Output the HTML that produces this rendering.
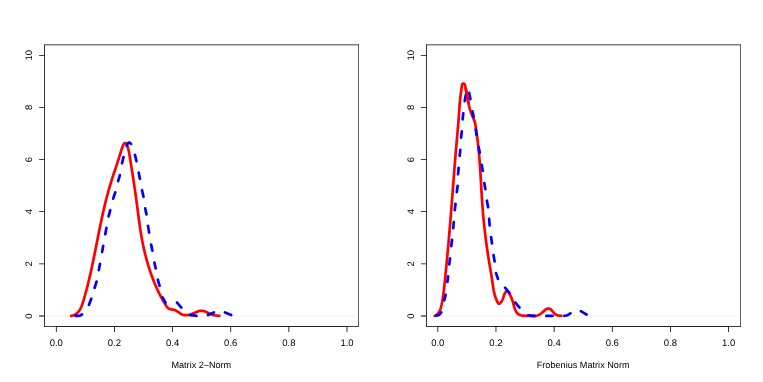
<!DOCTYPE html>
<html><head><meta charset="utf-8"><title>Density plots</title>
<style>html,body{margin:0;padding:0;background:#fff;}body{width:763px;height:382px;position:relative;overflow:hidden;font-family:"Liberation Sans",sans-serif;}</style>
</head><body>
<svg width="763" height="382" viewBox="0 0 763 382" style="position:absolute;left:0;top:0;will-change:transform;font-family:'Liberation Sans',sans-serif;font-size:9.15px;fill:#000;text-rendering:geometricPrecision">
<rect width="763" height="382" fill="#fff"/>
<line x1="45.1" y1="316.0" x2="356.6" y2="316.0" stroke="#e8e8e8" stroke-width="0.55"/>
<path d="M71.20,315.90L71.96,315.73L72.69,315.53L73.39,315.28L74.05,315.01L74.68,314.71L75.28,314.37L75.86,314.01L76.40,313.62L76.91,313.21L77.41,312.76L77.87,312.30L78.31,311.81L78.73,311.30L79.13,310.77L79.51,310.22L79.87,309.66L80.21,309.07L80.53,308.48L80.84,307.86L81.13,307.24L81.41,306.60L81.67,305.95L81.93,305.30L82.17,304.63L82.41,303.96L82.64,303.28L82.86,302.59L83.08,301.91L83.29,301.22L83.49,300.53L83.70,299.84L83.90,299.15L84.10,298.46L84.30,297.77L84.50,297.09L84.70,296.40L84.89,295.72L85.08,295.03L85.27,294.35L85.46,293.66L85.65,292.98L85.84,292.30L86.02,291.61L86.21,290.93L86.39,290.25L86.57,289.57L86.75,288.89L86.93,288.21L87.10,287.53L87.28,286.85L87.45,286.17L87.62,285.49L87.80,284.81L87.96,284.13L88.13,283.45L88.30,282.77L88.47,282.10L88.63,281.42L88.80,280.74L88.96,280.06L89.12,279.39L89.28,278.71L89.44,278.03L89.60,277.35L89.76,276.67L89.91,276.00L90.07,275.32L90.23,274.64L90.38,273.96L90.53,273.28L90.69,272.61L90.84,271.93L90.99,271.25L91.14,270.57L91.29,269.89L91.44,269.21L91.58,268.53L91.73,267.85L91.88,267.17L92.02,266.49L92.17,265.81L92.31,265.13L92.46,264.44L92.60,263.76L92.75,263.08L92.89,262.40L93.03,261.72L93.17,261.03L93.31,260.35L93.45,259.67L93.59,258.98L93.73,258.30L93.87,257.62L94.01,256.93L94.15,256.25L94.29,255.56L94.43,254.88L94.57,254.19L94.70,253.51L94.84,252.82L94.98,252.14L95.12,251.45L95.25,250.77L95.39,250.08L95.52,249.40L95.66,248.71L95.80,248.03L95.93,247.34L96.07,246.65L96.20,245.97L96.34,245.28L96.47,244.59L96.61,243.91L96.75,243.22L96.88,242.54L97.02,241.85L97.15,241.16L97.29,240.48L97.42,239.79L97.56,239.10L97.69,238.41L97.83,237.73L97.97,237.04L98.10,236.35L98.24,235.67L98.38,234.98L98.51,234.29L98.65,233.61L98.79,232.92L98.92,232.23L99.06,231.55L99.20,230.86L99.34,230.17L99.48,229.49L99.62,228.80L99.76,228.11L99.90,227.43L100.04,226.74L100.18,226.05L100.32,225.37L100.46,224.68L100.60,223.99L100.75,223.31L100.89,222.62L101.03,221.94L101.18,221.25L101.32,220.56L101.47,219.88L101.62,219.19L101.76,218.51L101.91,217.82L102.06,217.14L102.21,216.45L102.36,215.77L102.51,215.08L102.66,214.40L102.81,213.72L102.96,213.03L103.12,212.35L103.27,211.66L103.43,210.98L103.58,210.30L103.74,209.62L103.90,208.93L104.05,208.25L104.21,207.57L104.37,206.89L104.54,206.20L104.70,205.52L104.86,204.84L105.03,204.16L105.19,203.48L105.36,202.80L105.52,202.12L105.69,201.44L105.86,200.76L106.03,200.08L106.21,199.40L106.38,198.72L106.55,198.04L106.73,197.37L106.91,196.69L107.08,196.01L107.26,195.33L107.44,194.66L107.62,193.98L107.81,193.30L107.99,192.63L108.18,191.95L108.36,191.28L108.55,190.60L108.74,189.93L108.93,189.26L109.13,188.58L109.32,187.91L109.52,187.24L109.71,186.57L109.91,185.89L110.11,185.22L110.31,184.55L110.52,183.88L110.72,183.21L110.93,182.54L111.14,181.87L111.34,181.20L111.55,180.53L111.77,179.87L111.98,179.20L112.19,178.53L112.41,177.87L112.62,177.20L112.84,176.53L113.06,175.87L113.28,175.20L113.49,174.54L113.71,173.87L113.93,173.20L114.15,172.54L114.37,171.88L114.60,171.21L114.82,170.55L115.04,169.88L115.26,169.22L115.48,168.56L115.70,167.89L115.92,167.23L116.14,166.57L116.36,165.90L116.59,165.24L116.81,164.58L117.02,163.91L117.24,163.25L117.46,162.59L117.68,161.93L117.90,161.26L118.11,160.60L118.33,159.94L118.54,159.27L118.75,158.61L118.96,157.95L119.17,157.29L119.38,156.62L119.59,155.96L119.80,155.30L120.00,154.63L120.21,153.97L120.41,153.31L120.61,152.64L120.81,151.98L121.02,151.31L121.22,150.65L121.43,149.98L121.65,149.32L121.87,148.65L122.10,147.98L122.34,147.31L122.58,146.64L122.84,145.97L123.11,145.30L123.40,144.64L123.76,144.01L124.22,143.47L124.78,143.11L125.39,143.08L125.97,143.38L126.46,143.88L126.82,144.49L127.10,145.16L127.34,145.86L127.57,146.56L127.78,147.25L127.98,147.94L128.17,148.63L128.35,149.32L128.51,150.01L128.67,150.69L128.82,151.38L128.96,152.06L129.10,152.75L129.23,153.43L129.35,154.11L129.47,154.79L129.58,155.47L129.69,156.16L129.80,156.84L129.91,157.52L130.02,158.20L130.13,158.89L130.24,159.57L130.35,160.25L130.46,160.94L130.57,161.62L130.67,162.31L130.78,162.99L130.89,163.68L131.00,164.37L131.11,165.05L131.22,165.74L131.33,166.43L131.44,167.11L131.54,167.80L131.65,168.49L131.76,169.18L131.87,169.87L131.98,170.56L132.09,171.25L132.20,171.94L132.30,172.63L132.41,173.32L132.52,174.01L132.63,174.70L132.74,175.39L132.84,176.09L132.95,176.78L133.06,177.47L133.16,178.16L133.27,178.86L133.38,179.55L133.48,180.24L133.59,180.94L133.69,181.63L133.80,182.32L133.90,183.02L134.01,183.71L134.11,184.41L134.22,185.10L134.32,185.80L134.42,186.49L134.53,187.18L134.63,187.88L134.73,188.58L134.83,189.27L134.94,189.97L135.04,190.66L135.14,191.36L135.24,192.05L135.34,192.75L135.44,193.44L135.54,194.14L135.63,194.83L135.73,195.53L135.83,196.23L135.93,196.92L136.02,197.62L136.12,198.31L136.21,199.01L136.31,199.71L136.40,200.40L136.50,201.10L136.59,201.79L136.68,202.49L136.77,203.18L136.86,203.88L136.95,204.57L137.05,205.27L137.14,205.97L137.23,206.66L137.31,207.36L137.40,208.05L137.49,208.75L137.58,209.44L137.67,210.14L137.76,210.83L137.85,211.53L137.94,212.22L138.03,212.91L138.12,213.61L138.21,214.30L138.30,215.00L138.39,215.69L138.48,216.38L138.57,217.08L138.66,217.77L138.75,218.47L138.84,219.16L138.94,219.85L139.03,220.54L139.12,221.24L139.22,221.93L139.31,222.62L139.41,223.32L139.51,224.01L139.61,224.70L139.70,225.39L139.80,226.08L139.90,226.77L140.01,227.47L140.11,228.16L140.21,228.85L140.32,229.54L140.42,230.23L140.53,230.92L140.64,231.61L140.75,232.30L140.86,232.99L140.98,233.68L141.09,234.37L141.21,235.06L141.32,235.74L141.44,236.43L141.56,237.12L141.69,237.81L141.81,238.50L141.94,239.18L142.07,239.87L142.19,240.56L142.33,241.25L142.46,241.93L142.59,242.62L142.73,243.30L142.87,243.99L143.01,244.67L143.15,245.36L143.30,246.04L143.44,246.73L143.59,247.41L143.74,248.09L143.89,248.78L144.05,249.46L144.20,250.14L144.36,250.82L144.52,251.50L144.68,252.18L144.85,252.86L145.01,253.54L145.18,254.22L145.35,254.90L145.52,255.58L145.70,256.26L145.87,256.93L146.05,257.61L146.23,258.29L146.41,258.96L146.60,259.64L146.78,260.31L146.97,260.99L147.16,261.66L147.35,262.33L147.55,263.00L147.75,263.67L147.94,264.34L148.15,265.01L148.35,265.68L148.55,266.35L148.76,267.02L148.97,267.69L149.18,268.35L149.40,269.02L149.62,269.69L149.84,270.35L150.06,271.01L150.28,271.68L150.51,272.34L150.73,273.00L150.96,273.66L151.20,274.32L151.43,274.98L151.67,275.64L151.91,276.29L152.15,276.95L152.40,277.61L152.64,278.26L152.89,278.92L153.14,279.57L153.40,280.22L153.66,280.87L153.91,281.52L154.18,282.17L154.44,282.82L154.71,283.47L154.98,284.11L155.25,284.76L155.52,285.40L155.80,286.05L156.08,286.69L156.36,287.33L156.65,287.97L156.94,288.61L157.23,289.25L157.52,289.88L157.82,290.52L158.12,291.15L158.42,291.78L158.73,292.41L159.04,293.04L159.35,293.67L159.67,294.30L159.99,294.92L160.31,295.55L160.63,296.17L160.96,296.79L161.30,297.41L161.63,298.03L161.97,298.65L162.31,299.26L162.66,299.87L163.01,300.49L163.36,301.10L163.72,301.70L164.08,302.31L164.44,302.92L164.81,303.52L165.18,304.12L165.56,304.72L165.93,305.32L166.32,305.91L166.71,306.49L167.13,307.05L167.57,307.56L168.04,308.03L168.55,308.44L169.10,308.77L169.71,309.02L170.36,309.20L171.05,309.33L171.77,309.44L172.49,309.54L173.22,309.66L173.94,309.83L174.64,310.05L175.33,310.33L175.99,310.66L176.64,311.03L177.28,311.42L177.91,311.84L178.53,312.26L179.15,312.69L179.76,313.10L180.37,313.50L180.99,313.87L181.61,314.20L182.23,314.49L182.86,314.72L183.50,314.90L184.15,315.04L184.80,315.13L185.45,315.17L186.11,315.17L186.78,315.14L187.45,315.07L188.12,314.97L188.79,314.84L189.47,314.68L190.15,314.49L190.83,314.28L191.50,314.06L192.18,313.81L192.85,313.56L193.53,313.29L194.20,313.01L194.87,312.72L195.53,312.43L196.19,312.15L196.85,311.88L197.51,311.62L198.17,311.38L198.83,311.18L199.49,311.01L200.15,310.88L200.81,310.80L201.48,310.78L202.15,310.81L202.82,310.90L203.49,311.05L204.16,311.24L204.84,311.47L205.51,311.73L206.17,312.01L206.84,312.30L207.49,312.61L208.14,312.91L208.79,313.21L209.42,313.50L210.05,313.78L210.68,314.04L211.32,314.29L211.95,314.53L212.59,314.75L213.25,314.94L213.91,315.12L214.59,315.28L215.28,315.41L216.00,315.52L216.73,315.61L217.47,315.68L218.19,315.74L218.87,315.82L219.40,315.90" fill="none" stroke="#ff0000" stroke-width="2.7" stroke-linecap="round" stroke-linejoin="round"/>
<path d="M75.65,315.88C76.29,315.85 78.44,315.92 79.50,315.70C80.56,315.48 81.58,314.73 82.00,314.53 M88.99,304.89C89.38,303.86 90.92,299.74 91.31,298.71 M94.66,287.77C94.97,286.75 96.23,282.65 96.54,281.63 M98.80,270.06C99.00,269.04 99.80,264.96 100.00,263.94 M102.10,251.96C102.28,250.94 103.02,246.86 103.20,245.84 M105.30,234.26C105.48,233.21 106.22,228.99 106.40,227.94 M108.55,216.37C108.83,215.35 109.97,211.25 110.25,210.23 M113.17,198.68C113.51,197.62 114.89,193.38 115.23,192.32 M118.15,181.17C118.43,180.16 119.57,176.14 119.85,175.13 M122.03,163.26C122.27,162.24 123.23,158.16 123.47,157.14 M126.72,145.80C126.90,145.38 127.34,143.82 127.80,143.30C128.26,142.78 128.97,142.54 129.50,142.65C130.03,142.76 130.74,143.72 130.98,143.94 M134.93,154.93C135.19,155.96 136.21,160.04 136.47,161.07 M138.70,172.64C138.90,173.66 139.70,177.74 139.90,178.76 M142.02,190.24C142.26,191.32 143.24,195.68 143.48,196.76 M145.21,208.34C145.42,209.36 146.28,213.44 146.49,214.46 M147.99,225.74C148.18,226.88 148.92,231.42 149.11,232.56 M151.11,244.54C151.32,245.56 152.18,249.64 152.39,250.66 M154.42,262.54C154.63,263.51 155.47,267.39 155.68,268.36 M157.85,279.73C158.13,280.75 159.27,284.85 159.55,285.87 M162.57,297.38C163.06,298.27 165.04,301.83 165.53,302.72 M177.06,302.52C177.77,303.36 180.63,306.74 181.34,307.58 M190.05,315.07C191.11,315.19 195.39,315.71 196.45,315.83 M208.00,314.98C208.99,314.55 212.91,312.85 213.90,312.42 M225.01,312.41C226.04,312.84 230.16,314.56 231.19,314.99" fill="none" stroke="#0000ff" stroke-width="2.7" stroke-linecap="round" stroke-linejoin="round"/>
<path d="M44.29,44.50H358.91V45.25H44.29Z" fill="#000"/>
<path d="M44.29,326.09H358.91V326.81H44.29Z" fill="#000"/>
<path d="M44.29,44.78H44.91V326.45H44.29Z" fill="#000"/>
<path d="M358.29,44.78H358.91V326.45H358.29Z" fill="#000"/>
<path d="M55.99,326.14H347.31V326.76H55.99ZM55.90,326.76H56.70V331.95H55.90ZM114.04,326.76H114.84V331.95H114.04ZM172.18,326.76H172.98V331.95H172.18ZM230.32,326.76H231.12V331.95H230.32ZM288.46,326.76H289.26V331.95H288.46ZM346.60,326.76H347.40V331.95H346.60Z" fill="#000"/>
<path d="M44.38,44.78H44.83V326.45H44.38ZM39.10,315.60H44.29V316.40H39.10ZM39.10,263.46H44.29V264.26H39.10ZM39.10,211.32H44.29V212.12H39.10ZM39.10,159.18H44.29V159.98H39.10ZM39.10,107.04H44.29V107.84H39.10ZM39.10,54.90H44.29V55.70H39.10Z" fill="#000"/>
<text x="56.30" y="346" text-anchor="middle" font-size="9.5">0.0</text>
<text x="114.44" y="346" text-anchor="middle" font-size="9.5">0.2</text>
<text x="172.58" y="346" text-anchor="middle" font-size="9.5">0.4</text>
<text x="230.72" y="346" text-anchor="middle" font-size="9.5">0.6</text>
<text x="288.86" y="346" text-anchor="middle" font-size="9.5">0.8</text>
<text x="347.00" y="346" text-anchor="middle" font-size="9.5">1.0</text>
<text transform="translate(32.30,316.00) rotate(-90)" text-anchor="middle" font-size="9.5">0</text>
<text transform="translate(32.30,263.86) rotate(-90)" text-anchor="middle" font-size="9.5">2</text>
<text transform="translate(32.30,211.72) rotate(-90)" text-anchor="middle" font-size="9.5">4</text>
<text transform="translate(32.30,159.58) rotate(-90)" text-anchor="middle" font-size="9.5">6</text>
<text transform="translate(32.30,107.44) rotate(-90)" text-anchor="middle" font-size="9.5">8</text>
<text transform="translate(32.30,55.30) rotate(-90)" text-anchor="middle" font-size="9.5">10</text>
<text x="201.30" y="367.9" text-anchor="middle">Matrix 2–Norm</text>
<line x1="426.9" y1="316.0" x2="738.5" y2="316.0" stroke="#e8e8e8" stroke-width="0.55"/>
<path d="M434.70,315.90L435.36,315.58L435.97,315.22L436.54,314.82L437.07,314.39L437.56,313.92L438.01,313.43L438.43,312.90L438.82,312.36L439.17,311.78L439.50,311.19L439.80,310.58L440.07,309.94L440.32,309.30L440.56,308.63L440.77,307.96L440.97,307.28L441.15,306.58L441.32,305.89L441.48,305.18L441.64,304.48L441.78,303.78L441.93,303.07L442.06,302.37L442.20,301.67L442.32,300.97L442.45,300.27L442.57,299.57L442.69,298.87L442.80,298.18L442.91,297.48L443.01,296.78L443.11,296.09L443.21,295.39L443.31,294.70L443.40,294.00L443.50,293.31L443.58,292.61L443.67,291.92L443.75,291.23L443.84,290.53L443.92,289.84L444.00,289.15L444.07,288.46L444.15,287.76L444.23,287.07L444.30,286.38L444.38,285.69L444.45,284.99L444.52,284.30L444.59,283.61L444.67,282.92L444.74,282.22L444.81,281.53L444.88,280.84L444.96,280.14L445.03,279.45L445.10,278.76L445.17,278.06L445.24,277.37L445.31,276.67L445.38,275.98L445.45,275.29L445.52,274.59L445.59,273.90L445.66,273.20L445.73,272.51L445.80,271.81L445.87,271.12L445.94,270.42L446.01,269.73L446.08,269.03L446.14,268.34L446.21,267.64L446.28,266.95L446.35,266.25L446.41,265.55L446.48,264.86L446.55,264.16L446.62,263.47L446.68,262.77L446.75,262.07L446.82,261.38L446.88,260.68L446.95,259.98L447.01,259.29L447.08,258.59L447.14,257.89L447.21,257.20L447.28,256.50L447.34,255.80L447.40,255.11L447.47,254.41L447.53,253.71L447.60,253.02L447.66,252.32L447.73,251.62L447.79,250.92L447.85,250.23L447.92,249.53L447.98,248.83L448.04,248.13L448.10,247.44L448.17,246.74L448.23,246.04L448.29,245.34L448.35,244.64L448.42,243.95L448.48,243.25L448.54,242.55L448.60,241.85L448.66,241.15L448.72,240.46L448.78,239.76L448.84,239.06L448.90,238.36L448.96,237.66L449.02,236.97L449.08,236.27L449.14,235.57L449.20,234.87L449.26,234.17L449.32,233.47L449.38,232.78L449.44,232.08L449.50,231.38L449.56,230.68L449.62,229.98L449.68,229.28L449.73,228.59L449.79,227.89L449.85,227.19L449.91,226.49L449.97,225.79L450.02,225.09L450.08,224.40L450.14,223.70L450.19,223.00L450.25,222.30L450.31,221.60L450.36,220.90L450.42,220.21L450.48,219.51L450.53,218.81L450.59,218.11L450.65,217.41L450.70,216.71L450.76,216.02L450.81,215.32L450.87,214.62L450.92,213.92L450.98,213.22L451.03,212.52L451.09,211.83L451.14,211.13L451.20,210.43L451.25,209.73L451.31,209.03L451.36,208.33L451.42,207.64L451.47,206.94L451.53,206.24L451.58,205.54L451.64,204.84L451.69,204.15L451.74,203.45L451.80,202.75L451.85,202.05L451.91,201.35L451.96,200.66L452.01,199.96L452.07,199.26L452.12,198.56L452.18,197.86L452.23,197.17L452.28,196.47L452.34,195.77L452.39,195.07L452.44,194.37L452.50,193.68L452.55,192.98L452.61,192.28L452.66,191.58L452.71,190.89L452.77,190.19L452.82,189.49L452.87,188.79L452.93,188.09L452.98,187.40L453.04,186.70L453.09,186.00L453.14,185.30L453.20,184.61L453.25,183.91L453.30,183.21L453.36,182.51L453.41,181.82L453.47,181.12L453.52,180.42L453.57,179.72L453.63,179.03L453.68,178.33L453.74,177.63L453.79,176.93L453.84,176.24L453.90,175.54L453.95,174.84L454.01,174.14L454.06,173.45L454.12,172.75L454.17,172.05L454.23,171.35L454.28,170.66L454.34,169.96L454.39,169.26L454.45,168.57L454.50,167.87L454.56,167.17L454.61,166.47L454.67,165.78L454.73,165.08L454.78,164.38L454.84,163.69L454.89,162.99L454.95,162.29L455.01,161.60L455.06,160.90L455.12,160.20L455.18,159.50L455.23,158.81L455.29,158.11L455.35,157.41L455.40,156.72L455.46,156.02L455.52,155.32L455.58,154.63L455.64,153.93L455.69,153.23L455.75,152.54L455.81,151.84L455.87,151.14L455.93,150.45L455.99,149.75L456.05,149.05L456.11,148.36L456.17,147.66L456.23,146.97L456.29,146.27L456.35,145.57L456.41,144.88L456.47,144.18L456.53,143.48L456.59,142.79L456.65,142.09L456.71,141.40L456.77,140.70L456.83,140.00L456.90,139.31L456.96,138.61L457.02,137.92L457.08,137.22L457.14,136.52L457.21,135.83L457.27,135.13L457.33,134.43L457.39,133.74L457.46,133.04L457.52,132.34L457.58,131.65L457.64,130.95L457.70,130.25L457.76,129.56L457.82,128.86L457.88,128.16L457.94,127.46L458.00,126.77L458.06,126.07L458.12,125.37L458.18,124.67L458.24,123.97L458.30,123.27L458.35,122.57L458.41,121.87L458.46,121.17L458.52,120.47L458.57,119.77L458.63,119.07L458.68,118.37L458.73,117.67L458.79,116.97L458.84,116.27L458.89,115.56L458.94,114.86L458.98,114.16L459.03,113.45L459.08,112.75L459.13,112.05L459.17,111.34L459.22,110.64L459.27,109.94L459.31,109.23L459.36,108.53L459.41,107.83L459.46,107.12L459.51,106.42L459.56,105.72L459.61,105.02L459.67,104.32L459.72,103.62L459.78,102.93L459.84,102.23L459.90,101.54L459.97,100.84L460.03,100.15L460.10,99.46L460.18,98.77L460.25,98.08L460.33,97.40L460.41,96.71L460.50,96.03L460.59,95.35L460.68,94.67L460.77,93.99L460.87,93.31L460.96,92.62L461.06,91.94L461.16,91.25L461.25,90.56L461.35,89.87L461.45,89.17L461.54,88.47L461.64,87.76L461.73,87.05L461.82,86.33L461.91,85.60L462.03,84.89L462.29,84.26L462.78,83.80L463.45,83.59L464.12,83.74L464.66,84.17L464.97,84.79L465.13,85.49L465.25,86.22L465.37,86.93L465.50,87.64L465.64,88.33L465.78,89.02L465.92,89.70L466.06,90.38L466.21,91.05L466.35,91.72L466.49,92.39L466.63,93.06L466.77,93.74L466.90,94.42L467.03,95.10L467.15,95.79L467.27,96.48L467.39,97.17L467.51,97.87L467.64,98.56L467.76,99.26L467.88,99.96L468.00,100.65L468.13,101.35L468.26,102.05L468.39,102.74L468.53,103.43L468.68,104.12L468.83,104.81L468.98,105.49L469.15,106.17L469.31,106.85L469.49,107.53L469.67,108.20L469.85,108.87L470.05,109.54L470.25,110.21L470.45,110.87L470.67,111.53L470.89,112.20L471.12,112.85L471.36,113.51L471.60,114.16L471.85,114.81L472.12,115.46L472.39,116.11L472.67,116.75L472.95,117.40L473.25,118.04L473.54,118.68L473.83,119.32L474.10,119.97L474.36,120.62L474.59,121.28L474.79,121.95L474.97,122.62L475.12,123.30L475.25,123.99L475.37,124.68L475.48,125.37L475.58,126.07L475.68,126.76L475.78,127.46L475.88,128.15L475.98,128.84L476.08,129.54L476.18,130.23L476.28,130.93L476.38,131.62L476.48,132.31L476.58,133.00L476.68,133.70L476.78,134.39L476.88,135.08L476.97,135.78L477.07,136.47L477.16,137.16L477.26,137.86L477.35,138.55L477.44,139.25L477.53,139.94L477.61,140.63L477.70,141.33L477.78,142.02L477.86,142.72L477.94,143.41L478.02,144.11L478.10,144.80L478.18,145.50L478.26,146.19L478.33,146.89L478.40,147.59L478.47,148.28L478.55,148.98L478.62,149.67L478.68,150.37L478.75,151.07L478.82,151.76L478.88,152.46L478.95,153.16L479.01,153.85L479.07,154.55L479.13,155.25L479.19,155.94L479.25,156.64L479.31,157.34L479.37,158.04L479.42,158.74L479.48,159.43L479.53,160.13L479.59,160.83L479.64,161.53L479.69,162.22L479.74,162.92L479.79,163.62L479.84,164.32L479.89,165.02L479.94,165.72L479.99,166.41L480.04,167.11L480.08,167.81L480.13,168.51L480.18,169.21L480.22,169.91L480.27,170.61L480.31,171.31L480.36,172.00L480.40,172.70L480.44,173.40L480.49,174.10L480.53,174.80L480.57,175.50L480.61,176.20L480.65,176.90L480.69,177.60L480.74,178.30L480.78,179.00L480.82,179.70L480.86,180.39L480.90,181.09L480.94,181.79L480.98,182.49L481.02,183.19L481.06,183.89L481.10,184.59L481.14,185.29L481.18,185.99L481.22,186.69L481.26,187.39L481.30,188.09L481.34,188.78L481.38,189.48L481.42,190.18L481.46,190.88L481.50,191.58L481.55,192.28L481.59,192.98L481.63,193.68L481.67,194.38L481.71,195.08L481.76,195.77L481.80,196.47L481.84,197.17L481.89,197.87L481.93,198.57L481.98,199.27L482.02,199.97L482.07,200.66L482.12,201.36L482.16,202.06L482.21,202.76L482.26,203.46L482.31,204.15L482.36,204.85L482.41,205.55L482.46,206.25L482.51,206.94L482.56,207.64L482.62,208.34L482.67,209.04L482.73,209.73L482.78,210.43L482.84,211.13L482.90,211.82L482.96,212.52L483.01,213.22L483.07,213.91L483.13,214.61L483.20,215.31L483.26,216.00L483.32,216.70L483.39,217.39L483.45,218.09L483.52,218.79L483.58,219.48L483.65,220.18L483.72,220.87L483.79,221.57L483.86,222.26L483.93,222.96L484.00,223.65L484.07,224.35L484.14,225.05L484.22,225.74L484.29,226.44L484.37,227.13L484.44,227.82L484.52,228.52L484.60,229.21L484.67,229.91L484.75,230.60L484.83,231.30L484.91,231.99L485.00,232.69L485.08,233.38L485.16,234.08L485.25,234.77L485.33,235.46L485.42,236.16L485.50,236.85L485.59,237.55L485.68,238.24L485.77,238.93L485.85,239.63L485.94,240.32L486.04,241.01L486.13,241.71L486.22,242.40L486.31,243.10L486.41,243.79L486.50,244.48L486.60,245.18L486.69,245.87L486.79,246.56L486.89,247.26L486.99,247.95L487.09,248.64L487.19,249.34L487.29,250.03L487.39,250.72L487.49,251.42L487.59,252.11L487.70,252.80L487.80,253.50L487.91,254.19L488.01,254.88L488.12,255.58L488.23,256.27L488.34,256.96L488.44,257.66L488.55,258.35L488.66,259.04L488.78,259.74L488.89,260.43L489.00,261.12L489.11,261.82L489.23,262.51L489.34,263.20L489.46,263.90L489.57,264.59L489.69,265.28L489.81,265.97L489.93,266.67L490.04,267.36L490.16,268.05L490.28,268.75L490.40,269.44L490.51,270.13L490.63,270.82L490.75,271.51L490.86,272.20L490.98,272.89L491.10,273.58L491.21,274.27L491.32,274.96L491.44,275.65L491.55,276.34L491.66,277.03L491.77,277.72L491.87,278.40L491.98,279.09L492.08,279.77L492.19,280.46L492.29,281.14L492.39,281.82L492.49,282.51L492.58,283.19L492.68,283.87L492.78,284.55L492.88,285.23L492.98,285.91L493.08,286.59L493.18,287.27L493.29,287.95L493.41,288.64L493.53,289.32L493.65,290.00L493.79,290.69L493.93,291.37L494.07,292.06L494.23,292.74L494.39,293.43L494.57,294.12L494.75,294.81L494.95,295.50L495.16,296.20L495.38,296.89L495.62,297.59L495.87,298.29L496.13,298.99L496.41,299.70L496.70,300.41L497.01,301.12L497.34,301.83L497.69,302.52L498.07,303.11L498.48,303.55L498.94,303.76L499.44,303.68L499.98,303.34L500.51,302.82L501.02,302.20L501.47,301.57L501.85,300.94L502.18,300.32L502.47,299.70L502.73,299.08L502.96,298.44L503.18,297.78L503.41,297.10L503.65,296.38L503.91,295.62L504.20,294.84L504.52,294.05L504.87,293.30L505.25,292.62L505.65,292.03L506.09,291.57L506.55,291.27L507.03,291.16L507.52,291.27L507.99,291.59L508.44,292.08L508.88,292.69L509.29,293.39L509.69,294.15L510.06,294.92L510.41,295.66L510.73,296.35L511.03,297.01L511.30,297.63L511.56,298.23L511.80,298.82L512.03,299.40L512.25,299.99L512.45,300.59L512.65,301.21L512.84,301.86L513.03,302.53L513.22,303.22L513.41,303.93L513.60,304.66L513.80,305.39L514.00,306.13L514.22,306.86L514.44,307.59L514.68,308.32L514.94,309.02L515.21,309.71L515.51,310.38L515.82,311.03L516.17,311.64L516.54,312.21L516.93,312.75L517.36,313.24L517.83,313.68L518.32,314.07L518.86,314.41L519.42,314.70L520.02,314.95L520.64,315.15L521.28,315.32L521.95,315.46L522.63,315.57L523.33,315.65L524.05,315.72L524.77,315.77L525.50,315.81L526.23,315.84L526.97,315.87L527.70,315.90L528.43,315.94L529.16,315.98L529.88,316.02L530.59,316.06L531.30,316.09L532.00,316.12L532.70,316.13L533.39,316.12L534.07,316.10L534.74,316.05L535.41,315.97L536.07,315.87L536.72,315.73L537.37,315.55L538.01,315.33L538.63,315.07L539.25,314.76L539.86,314.39L540.46,313.98L541.06,313.53L541.64,313.05L542.22,312.54L542.80,312.03L543.37,311.52L543.93,311.02L544.49,310.53L545.04,310.08L545.60,309.66L546.15,309.30L546.70,308.99L547.25,308.76L547.80,308.60L548.34,308.53L548.90,308.56L549.45,308.70L550.00,308.96L550.56,309.34L551.12,309.82L551.68,310.38L552.25,310.99L552.81,311.63L553.38,312.28L553.94,312.92L554.50,313.52L555.06,314.05L555.62,314.50L556.17,314.85L556.73,315.10L557.30,315.28L557.89,315.40L558.51,315.49L559.16,315.56L559.85,315.65L560.60,315.76L561.30,315.90" fill="none" stroke="#ff0000" stroke-width="2.7" stroke-linecap="round" stroke-linejoin="round"/>
<path d="M436.23,315.76C436.69,315.63 438.16,315.57 439.00,315.00C439.84,314.43 440.87,312.77 441.25,312.32 M444.33,300.27C444.55,299.34 445.45,295.66 445.67,294.73 M447.37,281.96C447.50,281.04 448.00,277.36 448.13,276.44 M449.27,264.45C449.40,263.44 449.90,259.36 450.03,258.35 M451.27,246.05C451.40,245.04 451.90,240.96 452.03,239.95 M453.25,228.15C453.33,227.13 453.67,223.07 453.75,222.05 M454.77,210.05C454.89,209.00 455.41,204.80 455.53,203.75 M456.77,192.15C456.92,191.09 457.48,186.81 457.63,185.75 M458.05,174.25C458.15,173.17 458.55,168.83 458.65,167.75 M459.66,155.95C459.77,154.92 460.23,150.78 460.34,149.75 M461.07,137.55C461.20,136.54 461.70,132.46 461.83,131.45 M462.65,119.35C462.75,118.34 463.15,114.26 463.25,113.25 M464.70,101.06C464.88,100.04 465.62,95.96 465.80,94.94 M469.20,92.94C469.40,93.96 470.20,98.04 470.40,99.06 M472.51,111.34C472.69,112.24 473.41,115.86 473.59,116.76 M475.78,129.44C475.92,130.36 476.48,134.04 476.62,134.96 M478.71,147.14C478.89,148.06 479.61,151.74 479.79,152.66 M481.70,164.84C481.88,165.86 482.62,169.94 482.80,170.96 M484.30,183.14C484.48,184.14 485.22,188.16 485.40,189.16 M486.90,200.74C487.10,201.83 487.90,206.17 488.10,207.26 M489.14,218.85C489.23,219.95 489.57,224.35 489.66,225.45 M491.08,237.04C491.24,238.11 491.86,242.39 492.02,243.46 M493.49,255.04C493.68,256.11 494.42,260.39 494.61,261.46 M496.07,273.12C496.38,274.08 497.62,277.92 497.93,278.88 M505.15,287.73C505.85,288.58 508.65,292.02 509.35,292.87 M515.26,302.52C515.97,303.36 518.83,306.74 519.54,307.58 M528.25,315.25C529.32,315.35 533.58,315.75 534.65,315.85 M546.25,315.90C547.32,315.90 551.58,315.90 552.65,315.90 M564.24,315.80C564.78,315.70 566.47,315.62 567.50,315.20C568.53,314.78 569.95,313.62 570.44,313.30 M580.87,311.18C581.82,311.74 585.58,313.96 586.53,314.52" fill="none" stroke="#0000ff" stroke-width="2.7" stroke-linecap="round" stroke-linejoin="round"/>
<path d="M465.64,88.33L465.78,89.02L465.92,89.70L466.06,90.38L466.21,91.05L466.35,91.72L466.49,92.39L466.63,93.06L466.77,93.74L466.90,94.42L467.03,95.10L467.15,95.79L467.27,96.48L467.39,97.17L467.51,97.87L467.64,98.56L467.76,99.26L467.88,99.96L468.00,100.65L468.13,101.35L468.26,102.05L468.39,102.74L468.53,103.43" fill="none" stroke="#ff0000" stroke-width="2.7"/>
<path d="M426.09,44.50H740.81V45.25H426.09Z" fill="#000"/>
<path d="M426.09,326.09H740.81V326.81H426.09Z" fill="#000"/>
<path d="M426.09,44.78H426.71V326.45H426.09Z" fill="#000"/>
<path d="M740.19,44.78H740.81V326.45H740.19Z" fill="#000"/>
<path d="M437.49,326.14H728.91V326.76H437.49ZM437.40,326.76H438.20V331.95H437.40ZM495.56,326.76H496.36V331.95H495.56ZM553.72,326.76H554.52V331.95H553.72ZM611.88,326.76H612.68V331.95H611.88ZM670.04,326.76H670.84V331.95H670.04ZM728.20,326.76H729.00V331.95H728.20Z" fill="#000"/>
<path d="M426.17,44.78H426.62V326.45H426.17ZM420.90,315.60H426.09V316.40H420.90ZM420.90,263.46H426.09V264.26H420.90ZM420.90,211.32H426.09V212.12H420.90ZM420.90,159.18H426.09V159.98H420.90ZM420.90,107.04H426.09V107.84H420.90ZM420.90,54.90H426.09V55.70H420.90Z" fill="#000"/>
<text x="437.80" y="346" text-anchor="middle" font-size="9.5">0.0</text>
<text x="495.96" y="346" text-anchor="middle" font-size="9.5">0.2</text>
<text x="554.12" y="346" text-anchor="middle" font-size="9.5">0.4</text>
<text x="612.28" y="346" text-anchor="middle" font-size="9.5">0.6</text>
<text x="670.44" y="346" text-anchor="middle" font-size="9.5">0.8</text>
<text x="728.60" y="346" text-anchor="middle" font-size="9.5">1.0</text>
<text transform="translate(414.10,316.00) rotate(-90)" text-anchor="middle" font-size="9.5">0</text>
<text transform="translate(414.10,263.86) rotate(-90)" text-anchor="middle" font-size="9.5">2</text>
<text transform="translate(414.10,211.72) rotate(-90)" text-anchor="middle" font-size="9.5">4</text>
<text transform="translate(414.10,159.58) rotate(-90)" text-anchor="middle" font-size="9.5">6</text>
<text transform="translate(414.10,107.44) rotate(-90)" text-anchor="middle" font-size="9.5">8</text>
<text transform="translate(414.10,55.30) rotate(-90)" text-anchor="middle" font-size="9.5">10</text>
<text x="583.15" y="367.9" text-anchor="middle">Frobenius Matrix Norm</text>
</svg>
</body></html>
